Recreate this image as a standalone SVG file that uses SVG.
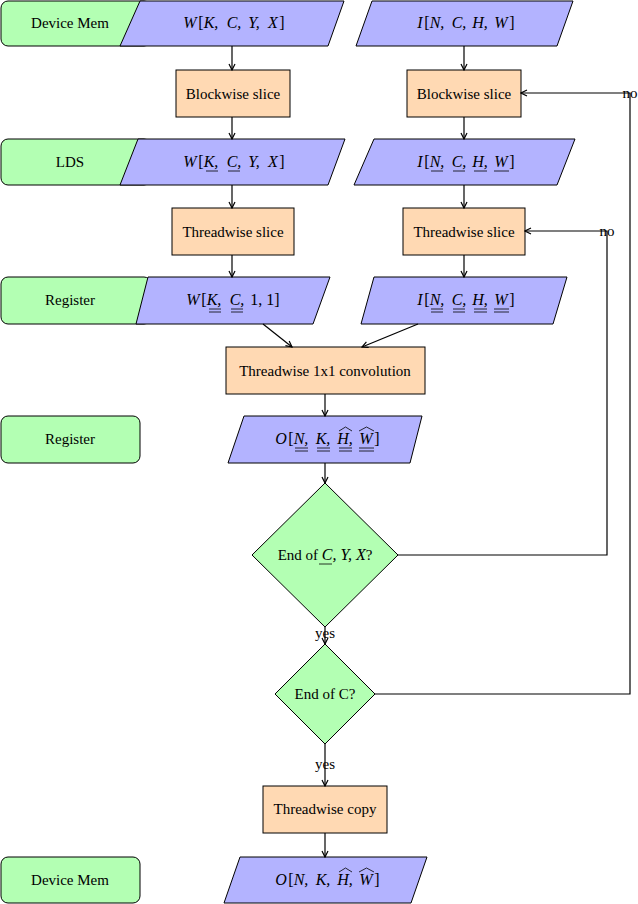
<svg xmlns="http://www.w3.org/2000/svg" width="638" height="904" viewBox="0 0 638 904">
<style>
.g{fill:#b3ffb3;stroke:#000;stroke-width:1}
.p{fill:#b3b3ff;stroke:#000;stroke-width:1}
.o{fill:#ffd9b3;stroke:#000;stroke-width:1}
text{font-family:"Liberation Serif",serif;font-size:15px;text-anchor:middle}
.m{font-style:italic;font-size:16px}
.b{font-size:16px}
.c line,.c polyline{stroke:#000;stroke-width:1.2;fill:none}
.u{stroke:#000;stroke-width:0.8}
.h{stroke:#000;stroke-width:0.8;fill:none}
</style>
<defs><marker id="a" markerWidth="8" markerHeight="8" refX="7" refY="4" orient="auto" markerUnits="userSpaceOnUse"><path d="M1,1 L7,4 L1,7" fill="none" stroke="#000" stroke-width="1.2"/></marker></defs>

<g id="dm1"><rect class="g" x="1" y="1" width="150" height="45" rx="7"/><text x="70" y="28">Device Mem</text></g>
<g id="w1"><polygon class="p" points="140,1 344,1 328,46 120,46"/>
<text x="190" y="28" class="m">W</text><text x="201" y="28" class="b">[</text><text x="211" y="28" class="m">K,</text><text x="234" y="28" class="m">C,</text><text x="254" y="28" class="m">Y,</text><text x="273" y="28" class="m">X</text><text x="282" y="28" class="b">]</text></g>
<g id="i1"><polygon class="p" points="372,1 573,1 557,46 356,46"/>
<text x="420" y="28" class="m">I</text><text x="427" y="28" class="b">[</text><text x="437" y="28" class="m">N,</text><text x="459" y="28" class="m">C,</text><text x="480" y="28" class="m">H,</text><text x="501" y="28" class="m">W</text><text x="512" y="28" class="b">]</text></g>
<g id="bs1"><rect class="o" x="176" y="70" width="114" height="47"/><text x="233" y="99">Blockwise slice</text></g>
<g id="bs2"><rect class="o" x="407" y="70" width="114" height="47"/><text x="464" y="99">Blockwise slice</text></g>

<g id="lds"><rect class="g" x="1" y="139" width="150" height="46" rx="7"/><text x="70" y="167">LDS</text></g>
<g id="w2"><polygon class="p" points="138,139 345,139 328,185 120,185"/>
<text x="190" y="167" class="m">W</text><text x="201" y="167" class="b">[</text><text x="211" y="167" class="m">K,</text><text x="234" y="167" class="m">C,</text><text x="254" y="167" class="m">Y,</text><text x="273" y="167" class="m">X</text><text x="282" y="167" class="b">]</text>
<line class="u" x1="206" y1="171" x2="218" y2="171"/><line class="u" x1="228" y1="171" x2="240" y2="171"/></g>
<g id="i2"><polygon class="p" points="374,139 575,139 557,185 354,185"/>
<text x="420" y="167" class="m">I</text><text x="427" y="167" class="b">[</text><text x="437" y="167" class="m">N,</text><text x="459" y="167" class="m">C,</text><text x="480" y="167" class="m">H,</text><text x="501" y="167" class="m">W</text><text x="512" y="167" class="b">]</text>
<line class="u" x1="431" y1="171" x2="443" y2="171"/><line class="u" x1="453" y1="171" x2="465" y2="171"/><line class="u" x1="474" y1="171" x2="487" y2="171"/><line class="u" x1="494" y1="171" x2="509" y2="171"/></g>
<g id="ts1"><rect class="o" x="172" y="208" width="122" height="47"/><text x="233" y="237">Threadwise slice</text></g>
<g id="ts2"><rect class="o" x="403" y="208" width="122" height="47"/><text x="464" y="237">Threadwise slice</text></g>

<g id="reg1"><rect class="g" x="1" y="277" width="150" height="47" rx="7"/><text x="70" y="305">Register</text></g>
<g id="w3"><polygon class="p" points="148,277 330,277 313,324 136,324"/>
<text x="193" y="305" class="m">W</text><text x="204" y="305" class="b">[</text><text x="214" y="305" class="m">K,</text><text x="237" y="305" class="m">C,</text><text x="265" y="305" class="b">1, 1]</text>
<line class="u" x1="209" y1="309" x2="221" y2="309"/><line class="u" x1="209" y1="312" x2="221" y2="312"/><line class="u" x1="231" y1="309" x2="243" y2="309"/><line class="u" x1="231" y1="312" x2="243" y2="312"/></g>
<g id="i3"><polygon class="p" points="374,277 567,277 553,324 361,324"/>
<text x="420" y="305" class="m">I</text><text x="427" y="305" class="b">[</text><text x="437" y="305" class="m">N,</text><text x="459" y="305" class="m">C,</text><text x="480" y="305" class="m">H,</text><text x="501" y="305" class="m">W</text><text x="512" y="305" class="b">]</text>
<line class="u" x1="431" y1="309" x2="443" y2="309"/><line class="u" x1="431" y1="312" x2="443" y2="312"/><line class="u" x1="453" y1="309" x2="465" y2="309"/><line class="u" x1="453" y1="312" x2="465" y2="312"/><line class="u" x1="474" y1="309" x2="487" y2="309"/><line class="u" x1="474" y1="312" x2="487" y2="312"/><line class="u" x1="494" y1="309" x2="509" y2="309"/><line class="u" x1="494" y1="312" x2="509" y2="312"/></g>
<g id="conv"><rect class="o" x="226" y="347" width="199" height="47"/><text x="325" y="376">Threadwise 1x1 convolution</text></g>

<g id="reg2"><rect class="g" x="1" y="416" width="139" height="47" rx="7"/><text x="70" y="444">Register</text></g>
<g id="o1"><polygon class="p" points="244,416 422,416 410,463 228,463"/>
<text x="281" y="444" class="m">O</text><text x="291" y="444" class="b">[</text><text x="301" y="444" class="m">N,</text><text x="323" y="444" class="m">K,</text><text x="345" y="444" class="m">H,</text><text x="366" y="444" class="m">W</text><text x="377" y="444" class="b">]</text>
<line class="u" x1="295" y1="448" x2="308" y2="448"/><line class="u" x1="295" y1="451" x2="308" y2="451"/><line class="u" x1="317" y1="448" x2="330" y2="448"/><line class="u" x1="317" y1="451" x2="330" y2="451"/><line class="u" x1="339" y1="448" x2="352" y2="448"/><line class="u" x1="339" y1="451" x2="352" y2="451"/><line class="u" x1="359" y1="448" x2="374" y2="448"/><line class="u" x1="359" y1="451" x2="374" y2="451"/>
<polyline class="h" points="339,431 345.5,427 352,431"/><polyline class="h" points="359,431 366.5,427 374,431"/></g>

<g id="d1"><polygon class="g" points="325,483 398,555 325,627 252,555"/><text x="325" y="560">End of <tspan class="m">C, Y, X</tspan>?</text><line class="u" x1="319" y1="564" x2="332" y2="564"/></g>
<g id="d2"><polygon class="g" points="325,644 375,694 325,744 275,694"/><text x="325" y="699">End of C?</text></g>
<g id="tc"><rect class="o" x="263" y="786" width="124" height="47"/><text x="325" y="814">Threadwise copy</text></g>

<g id="dm2"><rect class="g" x="1" y="857" width="139" height="46" rx="7"/><text x="70" y="885">Device Mem</text></g>
<g id="o2"><polygon class="p" points="240,857 427,857 411,903 224,903"/>
<text x="281" y="885" class="m">O</text><text x="291" y="885" class="b">[</text><text x="301" y="885" class="m">N,</text><text x="323" y="885" class="m">K,</text><text x="345" y="885" class="m">H,</text><text x="366" y="885" class="m">W</text><text x="377" y="885" class="b">]</text>
<polyline class="h" points="339,872 345.5,868 352,872"/><polyline class="h" points="359,872 366.5,868 374,872"/></g>

<g class="c" id="connectors">
<line x1="232" y1="46" x2="232" y2="70" marker-end="url(#a)"/>
<line x1="464" y1="46" x2="464" y2="70" marker-end="url(#a)"/>
<line x1="232" y1="117" x2="232" y2="139" marker-end="url(#a)"/>
<line x1="464" y1="117" x2="464" y2="139" marker-end="url(#a)"/>
<line x1="232" y1="185" x2="232" y2="208" marker-end="url(#a)"/>
<line x1="464" y1="185" x2="464" y2="208" marker-end="url(#a)"/>
<line x1="232" y1="255" x2="232" y2="277" marker-end="url(#a)"/>
<line x1="464" y1="255" x2="464" y2="277" marker-end="url(#a)"/>
<line x1="263" y1="324" x2="292" y2="347" marker-end="url(#a)"/>
<line x1="418" y1="324" x2="362" y2="347" marker-end="url(#a)"/>
<line x1="325" y1="394" x2="325" y2="416" marker-end="url(#a)"/>
<line x1="325" y1="463" x2="325" y2="483" marker-end="url(#a)"/>
<line x1="325" y1="627" x2="325" y2="644" marker-end="url(#a)"/>
<line x1="325" y1="744" x2="325" y2="786" marker-end="url(#a)"/>
<line x1="325" y1="833" x2="325" y2="857" marker-end="url(#a)"/>
<polyline points="398,555 607,555 607,231 525,231" marker-end="url(#a)"/>
<polyline points="375,694 630,694 630,93 521,93" marker-end="url(#a)"/>
</g>
<text x="607" y="236">no</text>
<text x="630" y="98">no</text>
<text x="325" y="638">yes</text>
<text x="325" y="769">yes</text>
</svg>
